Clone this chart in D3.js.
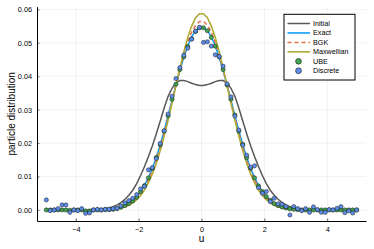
<!DOCTYPE html>
<html><head><meta charset="utf-8">
<script src="https://cdn.jsdelivr.net/npm/d3@7"></script>
<style>
html,body{margin:0;padding:0;background:#fff;}
svg{display:block;font-family:"Liberation Sans",Arial,sans-serif;}
</style></head>
<body><svg id="chart" width="374" height="249"></svg>
<script>
const u = [-4.9375,-4.8125,-4.6875,-4.5625,-4.4375,-4.3125,-4.1875,-4.0625,-3.9375,-3.8125,
 -3.6875,-3.5625,-3.4375,-3.3125,-3.1875,-3.0625,-2.9375,-2.8125,-2.6875,-2.5625,
 -2.4375,-2.3125,-2.1875,-2.0625,-1.9375,-1.8125,-1.6875,-1.5625,-1.4375,-1.3125,
 -1.1875,-1.0625,-0.9375,-0.8125,-0.6875,-0.5625,-0.4375,-0.3125,-0.1875,-0.0625,
 0.0625,0.1875,0.3125,0.4375,0.5625,0.6875,0.8125,0.9375,1.0625,1.1875,
 1.3125,1.4375,1.5625,1.6875,1.8125,1.9375,2.0625,2.1875,2.3125,2.4375,
 2.5625,2.6875,2.8125,2.9375,3.0625,3.1875,3.3125,3.4375,3.5625,3.6875,
 3.8125,3.9375,4.0625,4.1875,4.3125,4.4375,4.5625,4.6875,4.8125,4.9375];

const initialVals = [0,0,0,0,0,0,0,0,0,0,0,0,
 0.0001,0.0001,0.0002,0.0004,0.0006,0.0010,0.0015,0.0022,0.0032,0.0044,0.0059,0.0079,0.0103,0.0130,0.0160,0.0192,0.0228,0.0266,0.0305,0.0340,0.0364,0.0380,0.0387,0.0387,0.0384,0.0379,0.0375,0.0372,
 0.0372,0.0375,0.0379,0.0384,0.0387,0.0387,0.0380,0.0364,0.0340,0.0305,0.0266,0.0228,0.0192,0.0160,0.0130,0.0103,0.0079,0.0059,0.0044,0.0032,0.0022,0.0015,0.0010,0.0006,0.0004,0.0002,0.0001,0.0001,
 0,0,0,0,0,0,0,0,0,0,0,0];

const exactVals = [0,0,0,0,0,0,0,0,0,0,0,0,0,
 0.0001,0.0001,0.0002,0.0002,0.0004,0.0006,0.0009,0.0014,0.0020,0.0028,0.0040,0.0055,0.0074,0.0097,0.0125,0.0157,0.0195,0.0237,0.0282,0.0328,0.0374,0.0417,0.0457,0.0491,0.0518,0.0537,0.0546,
 0.0546,0.0537,0.0518,0.0491,0.0457,0.0417,0.0374,0.0328,0.0282,0.0237,0.0195,0.0157,0.0125,0.0097,0.0074,0.0055,0.0040,0.0028,0.0020,0.0014,0.0009,0.0006,0.0004,0.0002,0.0002,0.0001,0.0001,
 0,0,0,0,0,0,0,0,0,0,0,0,0];

const bgkVals = [0,0,0,0,0,0,0,0,0,0,0,0,0,0,
 0.0001,0.0001,0.0002,0.0003,0.0005,0.0008,0.0012,0.0018,0.0025,0.0036,0.0050,0.0068,0.0090,0.0118,0.0150,0.0188,0.0230,0.0276,0.0325,0.0373,0.0420,0.0463,0.0501,0.0532,0.0553,0.0564,
 0.0564,0.0553,0.0532,0.0501,0.0463,0.0420,0.0373,0.0325,0.0276,0.0230,0.0188,0.0150,0.0118,0.0090,0.0068,0.0050,0.0036,0.0025,0.0018,0.0012,0.0008,0.0005,0.0003,0.0002,0.0001,0.0001,
 0,0,0,0,0,0,0,0,0,0,0,0,0,0];

const maxwellianVals = [0,0,0,0,0,0,0,0,0,0,0,0,0,0,
 0.0001,0.0001,0.0002,0.0002,0.0004,0.0006,0.0010,0.0014,0.0021,0.0031,0.0043,0.0060,0.0082,0.0108,0.0140,0.0178,0.0221,0.0269,0.0320,0.0372,0.0424,0.0473,0.0516,0.0550,0.0575,0.0587,
 0.0587,0.0575,0.0550,0.0516,0.0473,0.0424,0.0372,0.0320,0.0269,0.0221,0.0178,0.0140,0.0108,0.0082,0.0060,0.0043,0.0031,0.0021,0.0014,0.0010,0.0006,0.0004,0.0002,0.0002,0.0001,0.0001,
 0,0,0,0,0,0,0,0,0,0,0,0,0,0];

const ubeVals = [0,0,0,0,0,0,-0.0001,0,0,0,
 -0.0003,-0.0003,0,0,0,0.0001,0.0001,0.0002,0.0004,0.0008,
 0.0013,0.0019,0.0027,0.0038,0.0055,0.0073,0.0096,0.0124,0.0157,0.0195,
 0.0236,0.0282,0.0331,0.0376,0.0420,0.0458,0.0489,0.0512,0.0534,0.0545,
 0.0545,0.0536,0.0516,0.0490,0.0458,0.0420,0.0374,0.0331,0.0284,0.0236,
 0.0196,0.0156,0.0125,0.0096,0.0072,0.0055,0.0040,0.0029,0.0019,0.0013,
 0.0009,0.0006,0.0003,0.0002,0.0001,0,0,0,0,0,
 0,0,0,0,0,0,0,0,0,0];

const discreteVals = [0.0030,-0.0002,0,0.0004,0.0015,0.0015,-0.0007,0,-0.0002,0.0004,
 -0.0010,-0.0009,0,0.0002,0,0.0002,0.0002,0.0004,0.0005,0.0012,
 0.0021,0.0028,0.0035,0.0046,0.0063,0.0071,0.0120,0.0127,0.0154,0.0199,
 0.0237,0.0287,0.0340,0.0393,0.0426,0.0463,0.0484,0.0511,0.0535,0.0546,
 0.0501,0.0503,0.0490,0.0464,0.0459,0.0430,0.0377,0.0338,0.0281,0.0239,
 0.0194,0.0164,0.0128,0.0132,0.0067,0.0050,0.0055,0.0025,0.0035,0.0018,
 0.0017,0.0010,-0.0015,0.0010,0.0004,-0.0002,0.0004,-0.0007,0.0009,0.0001,
 -0.0007,-0.0007,0.0001,0,0.0005,0.0010,-0.0008,-0.0003,-0.0009,0];

const xTicks = [-4,-2,0,2,4];
const yTicks = [0,0.01,0.02,0.03,0.04,0.05,0.06];
const legendLabels = ["Initial","Exact","BGK","Maxwellian","UBE","Discrete"];

const svg = d3.select("#chart");
const L = 37, R = 366, T = 6.7, B = 221;
const x = d3.scaleLinear().domain([-5.234, 5.234]).range([L, R]);
const y = d3.scaleLinear().domain([-0.0033, 0.0608]).range([B, T]);

// grid
const grid = svg.append("g");
grid.selectAll("line.gx").data(xTicks).join("line")
  .attr("x1", d => x(d)).attr("x2", d => x(d)).attr("y1", T).attr("y2", B)
  .attr("stroke", "#000").attr("stroke-opacity", 0.1).attr("stroke-width", 0.5);
grid.selectAll("line.gy").data(yTicks).join("line")
  .attr("x1", L).attr("x2", R).attr("y1", d => y(d)).attr("y2", d => y(d))
  .attr("stroke", "#000").attr("stroke-opacity", 0.1).attr("stroke-width", 0.5);

// axes
const fmtX = d => (d < 0 ? "\u2212" + Math.abs(d) : String(d));
const xAxis = svg.append("g").attr("transform", `translate(0,${B})`)
  .call(d3.axisBottom(x).tickValues(xTicks).tickFormat(fmtX).tickSizeInner(-2.5).tickSizeOuter(0).tickPadding(6));
const yAxis = svg.append("g").attr("transform", `translate(${L},0)`)
  .call(d3.axisLeft(y).tickValues(yTicks).tickFormat(d3.format(".2f")).tickSizeInner(-2.5).tickSizeOuter(0).tickPadding(5));
[xAxis, yAxis].forEach(a => {
  a.select(".domain").attr("stroke", "#000").attr("stroke-width", 1);
  a.selectAll(".tick line").attr("stroke", "#000").attr("stroke-width", 0.6);
  a.selectAll(".tick text").attr("font-size", 7.3).attr("fill", "#000")
   .attr("font-family", "Liberation Sans, Arial, sans-serif");
});

// axis labels
svg.append("text").attr("x", x(0)).attr("y", 242).attr("text-anchor", "middle")
  .attr("font-size", 10).attr("fill", "#000").text("u");
svg.append("text").attr("transform", `translate(14.5,${(T + B) / 2}) rotate(-90)`)
  .attr("text-anchor", "middle").attr("font-size", 10).attr("fill", "#000").text("particle distribution");

// lines
const line = vals => d3.line().x((d, i) => x(u[i])).y(d => y(d))(vals);
const plot = svg.append("g");
const series = [
  {vals: initialVals, color: "#585858", dash: null, w: 1.5},
  {vals: exactVals, color: "#009AFA", dash: null, w: 1.5},
  {vals: bgkVals, color: "#E36F47", dash: "4,3", w: 1.5},
  {vals: maxwellianVals, color: "#AFAA36", dash: null, w: 1.6}
];
series.forEach(s => {
  plot.append("path").attr("d", line(s.vals)).attr("fill", "none")
    .attr("stroke", s.color).attr("stroke-width", s.w)
    .attr("stroke-dasharray", s.dash);
});

// scatter
const scat = [
  {vals: ubeVals, color: "#3EA44E"},
  {vals: discreteVals, color: "#5C8DEB"}
];
scat.forEach(s => {
  plot.append("g").selectAll("circle").data(s.vals).join("circle")
    .attr("cx", (d, i) => x(u[i])).attr("cy", d => y(d)).attr("r", 2.1)
    .attr("fill", s.color).attr("stroke", "#1a1a1a").attr("stroke-width", 0.5);
});

// legend
const lg = svg.append("g");
lg.append("rect").attr("x", 284).attr("y", 14.3).attr("width", 71).attr("height", 65.7)
  .attr("fill", "#fff").attr("stroke", "#000").attr("stroke-width", 1);
const rowY = i => 23.5 + i * 9.45;
legendLabels.forEach((lab, i) => {
  if (i < 4) {
    const s = series[i];
    lg.append("line").attr("x1", 287.5).attr("x2", 310).attr("y1", rowY(i)).attr("y2", rowY(i))
      .attr("stroke", s.color).attr("stroke-width", s.w).attr("stroke-dasharray", s.dash);
  } else {
    const s = scat[i - 4];
    lg.append("circle").attr("cx", 298.5).attr("cy", rowY(i)).attr("r", 2.9)
      .attr("fill", s.color).attr("stroke", "#1a1a1a").attr("stroke-width", 0.6);
  }
  lg.append("text").attr("x", 313).attr("y", rowY(i)).attr("dy", "0.35em")
    .attr("font-size", 7.2).attr("fill", "#000").text(lab);
});
</script></body></html>
